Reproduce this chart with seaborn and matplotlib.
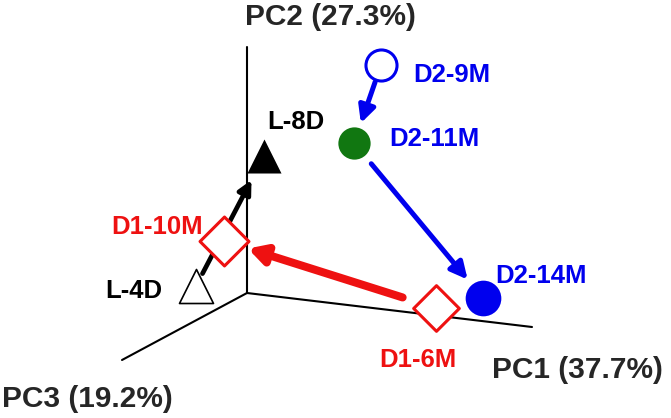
import numpy as np
import pandas as pd
import seaborn as sns
import matplotlib.pyplot as plt

# samples and their projected positions in the pseudo-3D PCA frame (pixel-like units)
samples = ["D2-9M", "D2-11M", "D2-14M", "D1-6M", "D1-10M", "L-8D", "L-4D"]
proj_x = [381, 354, 483, 436, 224, 264, 196]
proj_y = [65, 143, 298, 308, 241, 156, 286]

# trajectories between samples
arrow_from = ["D2-9M", "D2-11M", "D1-6M", "L-4D"]
arrow_to = ["D2-11M", "D2-14M", "D1-10M", "L-8D"]

axis_names = ["PC1 (37.7%)", "PC2 (27.3%)", "PC3 (19.2%)"]

# ---- styling -------------------------------------------------------------
BLUE = "#0000ee"
RED = "#ee1111"
GREEN = "#117711"

marker_style = {
    # marker, face, edge, size, edge width
    "D2-9M": ("o", "white", BLUE, 500, 2.2),
    "D2-11M": ("o", GREEN, GREEN, 540, 0),
    "D2-14M": ("o", BLUE, BLUE, 660, 0),
    "D1-6M": ("D", "white", RED, 540, 2.2),
    "D1-10M": ("D", "white", RED, 620, 2.2),
    "L-8D": ("^", "black", "black", 600, 0),
    "L-4D": ("^", "white", "black", 600, 1.2),
}
label_style = {
    # color, dx, dy (baseline), ha
    "D2-9M": (BLUE, 32, 17, "left"),
    "D2-11M": (BLUE, 35, 3, "left"),
    "D2-14M": (BLUE, 12, -15, "left"),
    "D1-6M": (RED, -18, 59, "center"),
    "D1-10M": (RED, -21, -7, "right"),
    "L-8D": ("black", 3, -27, "left"),
    "L-4D": ("black", -34, 12, "right"),
}
arrow_style = [
    # color, lw, head_length, head_width, shrink_from, shrink_to (px)
    (BLUE, 3.6, 10, 5, 18, 21),
    (BLUE, 3.6, 10, 5, 27, 24),
    (RED, 5.8, 10, 5.5, 35, 25),
    ("black", 3.4, 8, 4, 14, 27),
]

df = pd.DataFrame({"sample": samples, "x": proj_x, "y": proj_y}).set_index("sample")

sns.set_style("white")
plt.rcParams["font.family"] = ["Liberation Sans", "DejaVu Sans"]

fig = plt.figure(figsize=(6.71, 4.18), dpi=100)
ax = fig.add_axes([0, 0, 1, 1])
ax.set_xlim(0, 671)
ax.set_ylim(418, 0)
ax.axis("off")

# axes of the 3D frame
origin = (247, 293)
ax.plot([origin[0], 247], [origin[1], 47], color="black", lw=1.5, zorder=1)
ax.plot([origin[0], 532], [origin[1], 327], color="black", lw=1.5, zorder=1)
ax.plot([origin[0], 122], [origin[1], 360], color="black", lw=1.5, zorder=1)

ax.text(492, 378, axis_names[0], fontsize=21.5, fontweight="bold", ha="left", va="baseline")
ax.text(245, 25, axis_names[1], fontsize=21.5, fontweight="bold", ha="left", va="baseline")
ax.text(2, 407, axis_names[2], fontsize=21.5, fontweight="bold", ha="left", va="baseline")

# arrows
px2pt = 0.72
for a, b, (col, lw, hl, hw, sa, sb) in zip(arrow_from, arrow_to, arrow_style):
    ax.annotate("", xy=(df.loc[b, "x"], df.loc[b, "y"]),
                xytext=(df.loc[a, "x"], df.loc[a, "y"]),
                arrowprops=dict(arrowstyle=f"-|>,head_length={hl},head_width={hw}",
                                mutation_scale=1, color=col, lw=lw,
                                shrinkA=sa * px2pt, shrinkB=sb * px2pt),
                zorder=2)

# markers
for s in samples:
    m, fc, ec, size, lw = marker_style[s]
    sns.scatterplot(x=[df.loc[s, "x"]], y=[df.loc[s, "y"]], ax=ax, marker=m, s=size,
                    color=fc, edgecolor=ec, linewidth=lw, zorder=3, legend=False)
    col, dx, dy, ha = label_style[s]
    ax.text(df.loc[s, "x"] + dx, df.loc[s, "y"] + dy, s, color=col, fontsize=18.5,
            fontweight="bold", ha=ha, va="baseline", zorder=4)

fig.savefig("out.png", dpi=100)
